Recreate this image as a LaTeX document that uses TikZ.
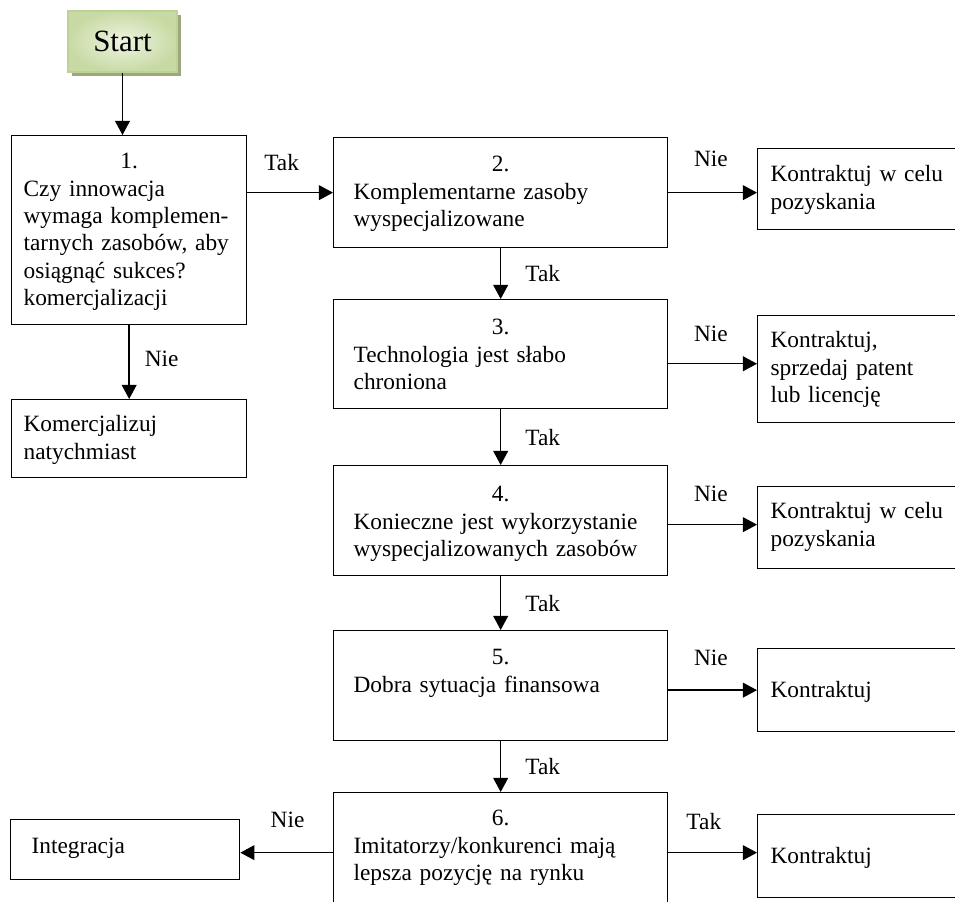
\documentclass[tikz,border=0pt]{standalone}
\usepackage{fontspec}
\setmainfont{Liberation Serif}
\usepackage{xcolor}
\usepackage{tikz}
\usetikzlibrary{arrows.meta, positioning, shadows}

\definecolor{startin}{RGB}{238,244,226}
\definecolor{startout}{RGB}{200,218,164}
\definecolor{startedge}{RGB}{190,210,150}
\definecolor{startshade}{RGB}{158,166,128}

\begin{document}
\begin{tikzpicture}[
        x=0.025cm, y=-0.025cm,
        txt/.style={font=\fontsize{16.6}{19.5}\selectfont},
        block/.style={rectangle, draw, line width=0.9pt, anchor=north west, align=left, inner ysep=0pt, txt},
        mid/.style={block, text width=7.35cm, inner xsep=0.5cm},
        side/.style={block, text width=5.175cm, inner xsep=0.325cm},
        startbox/.style={rectangle, draw=startedge, line width=1pt, inner color=startin, outer color=startout, minimum width=2.725cm, minimum height=1.525cm, font=\fontsize{22}{26}\selectfont, drop shadow={shadow xshift=2.5pt, shadow yshift=-2.5pt, fill=startshade, opacity=1}},
        lab/.style={txt, inner sep=0pt},
        line/.style={draw, -{Triangle[length=10pt, width=10.5pt]}, line width=1pt}
    ]
        \clip (0,0) rectangle (955,902);

        \node [startbox] (start) at (122.5,41.5) {Start};

        % left column
        \node [block, text width=5.275cm, inner xsep=0.3cm, text height=0.825cm, text depth=3.9cm] (q1) at (11,135)
            {\makebox[\linewidth]{1.}\\Czy innowacja\\wymaga komplemen-\\tarnych zasobów, aby\\osiągnąć sukces?\\komercjalizacji};
        \node [block, text width=5.275cm, inner xsep=0.3cm, text height=0.8cm, text depth=1.15cm] (now) at (11,399)
            {Komercjalizuj\\natychmiast};
        \node [block, text width=4.675cm, inner xsep=0.525cm, text height=0.85cm, text depth=0.65cm] (integ) at (10,819)
            {Integracja};

        % middle column
        \node [mid, text height=0.85cm, text depth=1.9cm] (q2) at (333,137)
            {\makebox[\linewidth]{2.}\\Komplementarne zasoby\\wyspecjalizowane};
        \node [mid, text height=0.875cm, text depth=1.85cm] (q3) at (333,299)
            {\makebox[\linewidth]{3.}\\Technologia jest słabo\\chroniona};
        \node [mid, text height=0.9cm, text depth=1.85cm] (q4) at (333,465)
            {\makebox[\linewidth]{4.}\\Konieczne jest wykorzystanie\\wyspecjalizowanych zasobów};
        \node [mid, text height=0.85cm, text depth=1.9cm] (q5) at (333,630)
            {\makebox[\linewidth]{5.}\\Dobra sytuacja finansowa};
        \node [mid, text height=0.825cm, text depth=2.175cm] (q6) at (333,792)
            {\makebox[\linewidth]{6.}\\Imitatorzy/konkurenci mają\\lepsza pozycję na rynku};

        % right column
        \node [side, text height=0.825cm, text depth=1.2cm] (ka) at (757,148)
            {Kontraktuj w celu\\pozyskania};
        \node [side, text height=0.8cm, text depth=1.875cm] (kb) at (757,315)
            {Kontraktuj,\\sprzedaj patent\\lub licencję};
        \node [side, text height=0.8cm, text depth=1.25cm] (kc) at (757,486)
            {Kontraktuj w celu\\pozyskania};
        \node [side, text height=1.225cm, text depth=0.85cm] (kd) at (757,648)
            {Kontraktuj};
        \node [side, text height=1.225cm, text depth=0.85cm] (ke) at (757,814)
            {Kontraktuj};

        \path [line] (start) -- (start |- q1.north);
        \path [line] (q1.east |- q2.west) -- node[lab, above=15pt, pos=0.4] {Tak} (q2.west);
        \path [line] (q1) -- node[lab, right=0.375cm, pos=0.45] {Nie} (now);

        \path [line] (q2.east) -- node[lab, above=18pt, pos=0.48] {Nie} (q2.east -| ka.west);
        \path [line] ([yshift=-0.24cm]q3.east) -- node[lab, above=15pt, pos=0.48] {Nie} ([yshift=-0.24cm]q3.east -| kb.west);
        \path [line] ([yshift=-0.1cm]q4.east) -- node[lab, above=15.5pt, pos=0.48] {Nie} ([yshift=-0.1cm]q4.east -| kc.west);
        \path [line] (q5.east |- kd.west) -- node[lab, above=17pt, pos=0.48] {Nie} (kd.west);
        \path [line] (q6.east) -- node[lab, above=15.5pt, pos=0.4] {Tak} (q6.east -| ke.west);
        \path [line] (q6.west) -- node[lab, above=17pt, pos=0.49] {Nie} (q6.west -| integ.east);

        \path [line] (q2) -- node[lab, right=0.6cm] {Tak} (q3);
        \path [line] (q3) -- node[lab, right=0.6cm] {Tak} (q4);
        \path [line] (q4) -- node[lab, right=0.6cm] {Tak} (q5);
        \path [line] (q5) -- node[lab, right=0.6cm] {Tak} (q6);
    \end{tikzpicture}
\end{document}
